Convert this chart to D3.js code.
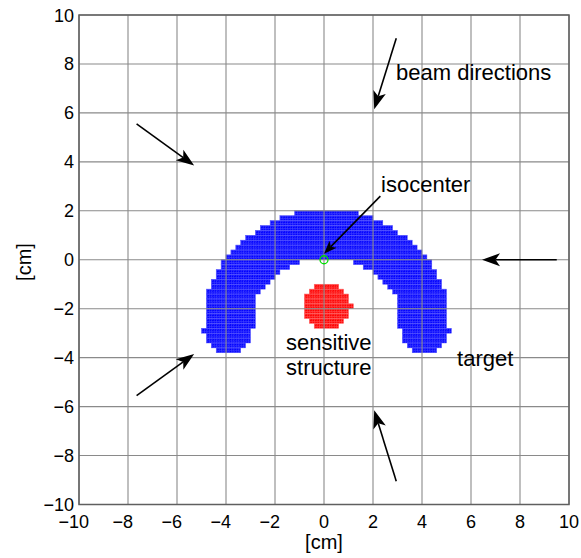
<!DOCTYPE html>
<html>
<head>
<meta charset="utf-8">
<script src="https://cdn.jsdelivr.net/npm/d3@7"></script>
<style>
  body { margin: 0; background: #fff; }
  text { font-family: "Liberation Sans", Arial, Helvetica, sans-serif; fill: #000; }
</style>
</head>
<body>
<div id="chart"></div>
<script>
// axis ticks
const xTicks = [-10, -8, -6, -4, -2, 0, 2, 4, 6, 8, 10];
const yTicks = [-10, -8, -6, -4, -2, 0, 2, 4, 6, 8, 10];

// target voxels, one row per 0.2 cm (top edge of each row)
const targetRowTop = [2.0, 1.8, 1.6, 1.4, 1.2, 1.0, 0.8, 0.6, 0.4, 0.2,
    0.0, -0.2, -0.4, -0.6, -0.8, -1.0, -1.2, -1.4, -1.6, -1.8,
    -2.0, -2.2, -2.4, -2.6, -2.8, -3.0, -3.2, -3.4, -3.6];
const targetOuterLeft = [-1.2, -1.8, -2.2, -2.6, -2.8, -3.2, -3.4, -3.6, -3.8, -4.0,
    -4.2, -4.2, -4.4, -4.4, -4.6, -4.6, -4.8, -4.8, -4.8, -4.8,
    -4.8, -4.8, -4.8, -4.8, -5.0, -4.8, -4.8, -4.6, -4.4];
const targetOuterRight = [1.4, 2.0, 2.4, 2.8, 3.0, 3.4, 3.6, 3.8, 4.0, 4.2,
    4.4, 4.4, 4.6, 4.6, 4.8, 4.8, 5.0, 5.0, 5.0, 5.0,
    5.0, 5.0, 5.0, 5.0, 5.2, 5.0, 5.0, 4.8, 4.6];
// inner edges of the arch (null = row is solid)
const targetInnerLeft = [null, null, null, null, null, null, null, null, null, null,
    -1.0, -1.4, -1.8, -2.0, -2.2, -2.4, -2.6, -2.8, -2.8, -2.8,
    -2.8, -2.8, -2.8, -2.8, -3.0, -3.0, -3.0, -3.2, -3.4];
const targetInnerRight = [null, null, null, null, null, null, null, null, null, null,
    1.2, 1.6, 2.0, 2.2, 2.4, 2.6, 2.8, 3.0, 3.0, 3.0,
    3.0, 3.0, 3.0, 3.0, 3.2, 3.2, 3.2, 3.4, 3.6];

// sensitive structure voxels
const sensRowTop = [-1.0, -1.2, -1.4, -1.6, -1.8, -2.0, -2.2, -2.4, -2.6];
const sensLeft = [-0.4, -0.6, -0.8, -0.8, -0.8, -0.8, -0.8, -0.6, -0.4];
const sensRight = [0.6, 0.8, 1.0, 1.0, 1.2, 1.0, 1.0, 0.8, 0.6];

// beam arrows (from, to) in cm
const arrowFrom = [[2.95, 9.05], [-7.65, 5.55], [9.5, 0.0], [-7.65, -5.55], [2.95, -9.05], [2.3, 2.6]];
const arrowTo = [[2.05, 6.15], [-5.3, 3.85], [6.45, 0.0], [-5.3, -3.85], [2.05, -6.15], [0.0, 0.25]];

const labels = ['beam directions', 'isocenter', 'sensitive', 'structure', 'target'];
const labelPos = [[2.94, 7.34], [2.33, 2.78], [-1.55, -3.69], [-1.55, -4.71], [5.43, -4.34]];

function makeChart() {
    const width = 581,
        height = 558,
        cell = 0.2;

    const x = d3.scaleLinear().domain([-10, 10]).range([79, 569]);
    const y = d3.scaleLinear().domain([-10, 10]).range([504.5, 15]);

    let svg = d3.select('#chart').append('svg')
        .attr('width', width)
        .attr('height', height);

    // voxel texture
    let defs = svg.append('defs');
    function voxelPattern(id, fill, line, diag) {
        const pw = x(cell / 2) - x(0),
            ph = y(0) - y(cell / 2);
        let p = defs.append('pattern')
            .attr('id', id)
            .attr('patternUnits', 'userSpaceOnUse')
            .attr('x', x(0)).attr('y', y(0))
            .attr('width', pw).attr('height', ph);
        p.append('rect').attr('width', pw).attr('height', ph).attr('fill', fill);
        p.append('path').attr('d', 'M0,0H' + pw + 'M0,0V' + ph)
            .attr('stroke', line).attr('stroke-width', 0.6);
        p.append('path').attr('d', 'M0,' + ph + 'L' + pw + ',0')
            .attr('stroke', diag).attr('stroke-width', 0.5);
    }
    voxelPattern('bluevox', '#0000ff', '#6a6aff', '#3c3cff');
    voxelPattern('redvox', '#ff0000', '#ff7a7a', '#ff4040');

    // target segments
    let targetSegs = [];
    targetRowTop.forEach((t, i) => {
        if (targetInnerLeft[i] === null) {
            targetSegs.push({ top: t, l: targetOuterLeft[i], r: targetOuterRight[i] });
        } else {
            targetSegs.push({ top: t, l: targetOuterLeft[i], r: targetInnerLeft[i] });
            targetSegs.push({ top: t, l: targetInnerRight[i], r: targetOuterRight[i] });
        }
    });
    let sensSegs = sensRowTop.map((t, i) => ({ top: t, l: sensLeft[i], r: sensRight[i] }));

    function drawVoxels(segs, fillId, edge) {
        svg.append('g').selectAll('rect')
            .data(segs)
            .enter().append('rect')
            .attr('x', d => x(d.l))
            .attr('y', d => y(d.top))
            .attr('width', d => x(d.r) - x(d.l))
            .attr('height', d => y(d.top - cell) - y(d.top))
            .attr('fill', 'url(#' + fillId + ')')
            .attr('stroke', edge)
            .attr('stroke-width', 0.5);
    }
    drawVoxels(targetSegs, 'bluevox', '#5050ff');
    drawVoxels(sensSegs, 'redvox', '#ff6060');

    // grid (on top of the patches)
    let grid = svg.append('g').attr('stroke', '#8a8a8a').attr('stroke-width', 1.1);
    grid.selectAll('.vx').data(xTicks).enter().append('line')
        .attr('x1', d => x(d)).attr('x2', d => x(d))
        .attr('y1', y(-10)).attr('y2', y(10));
    grid.selectAll('.hy').data(yTicks).enter().append('line')
        .attr('y1', d => y(d)).attr('y2', d => y(d))
        .attr('x1', x(-10)).attr('x2', x(10));

    svg.append('rect')
        .attr('x', x(-10)).attr('y', y(10))
        .attr('width', x(10) - x(-10)).attr('height', y(-10) - y(10))
        .attr('fill', 'none')
        .attr('stroke', '#5f5f5f')
        .attr('stroke-width', 1.5);

    // isocenter
    svg.append('circle')
        .attr('cx', x(0)).attr('cy', y(0)).attr('r', 4)
        .attr('fill', 'none')
        .attr('stroke', '#00e000')
        .attr('stroke-width', 1.3);

    // x tick labels: digits centred, minus hangs left
    xTicks.forEach(v => {
        let t = svg.append('text')
            .attr('x', x(v)).attr('y', 528)
            .attr('text-anchor', 'middle')
            .style('font-size', '18px')
            .text(Math.abs(v));
        if (v < 0) {
            const w = t.node().getComputedTextLength();
            svg.append('text')
                .attr('x', x(v) - w / 2).attr('y', 528)
                .attr('text-anchor', 'end')
                .style('font-size', '18px')
                .text('\u2212');
        }
    });

    svg.selectAll('.ylab').data(yTicks).enter().append('text')
        .attr('x', 74)
        .attr('y', d => y(d) + 6.5)
        .attr('text-anchor', 'end')
        .style('font-size', '18px')
        .text(d => (d < 0 ? '\u2212' : '') + Math.abs(d));

    svg.append('text')
        .attr('x', (x(-10) + x(10)) / 2).attr('y', 549)
        .attr('text-anchor', 'middle')
        .style('font-size', '20px')
        .text('[cm]');

    svg.append('text')
        .attr('transform', 'translate(31,' + 262 + ') rotate(-90)')
        .attr('text-anchor', 'middle')
        .style('font-size', '20px')
        .text('[cm]');

    // arrows
    arrowFrom.forEach((f, i) => {
        const x1 = x(f[0]), y1 = y(f[1]),
            x2 = x(arrowTo[i][0]), y2 = y(arrowTo[i][1]);
        const len = Math.hypot(x2 - x1, y2 - y1),
            ux = (x2 - x1) / len, uy = (y2 - y1) / len;
        const headLen = i === 5 ? 13 : 18,
            headHalf = i === 5 ? 5 : 6.5,
            notch = headLen * 0.75;
        svg.append('line')
            .attr('x1', x1).attr('y1', y1)
            .attr('x2', x2 - ux * notch).attr('y2', y2 - uy * notch)
            .attr('stroke', '#000')
            .attr('stroke-width', 1.6);
        const bx = x2 - ux * headLen, by = y2 - uy * headLen;
        const pts = [
            [x2, y2],
            [bx - uy * headHalf, by + ux * headHalf],
            [x2 - ux * notch, y2 - uy * notch],
            [bx + uy * headHalf, by - ux * headHalf]
        ];
        svg.append('polygon')
            .attr('points', pts.map(p => p.join(',')).join(' '))
            .attr('fill', '#000');
    });

    // annotations
    svg.selectAll('.note').data(labels).enter().append('text')
        .attr('x', (d, i) => x(labelPos[i][0]))
        .attr('y', (d, i) => y(labelPos[i][1]))
        .style('font-size', '22px')
        .text(d => d);
}

makeChart();
</script>
</body>
</html>
